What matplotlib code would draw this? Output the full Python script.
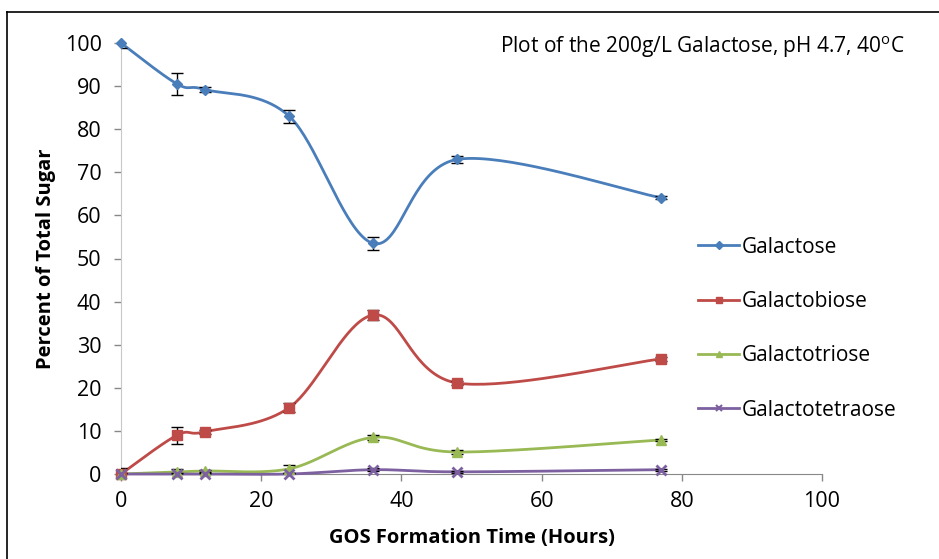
import numpy as np
import matplotlib
matplotlib.use("Agg")
import matplotlib.pyplot as plt
from matplotlib.lines import Line2D

plt.rcParams['font.family'] = ['Open Sans', 'DejaVu Sans']
plt.rcParams['mathtext.fontset'] = 'custom'
plt.rcParams['mathtext.rm'] = 'Open Sans'

# Sampling times (hours)
hours = [0, 8, 12, 24, 36, 48, 77]

# Percent of total sugar for each species
galactose = [100.0, 90.5, 89.2, 83.0, 53.5, 73.0, 64.1]
galactobiose = [0.0, 9.0, 9.8, 15.4, 36.9, 21.1, 26.7]
galactotriose = [0.0, 0.5, 0.7, 1.2, 8.5, 5.1, 7.9]
galactotetraose = [0.0, 0.0, 0.0, 0.0, 1.0, 0.5, 1.0]

# Standard deviations
galactose_err = [1.2, 2.5, 0.5, 1.5, 1.5, 0.8, 0.4]
galactobiose_err = [1.5, 2.0, 0.5, 1.0, 1.2, 0.5, 0.4]
galactotriose_err = [0.3, 0.7, 0.3, 1.0, 0.6, 0.4, 0.3]
galactotetraose_err = [0.2, 0.2, 0.2, 0.2, 0.3, 0.2, 0.2]

series_names = ["Galactose", "Galactobiose", "Galactotriose", "Galactotetraose"]
x_ticks = [0, 20, 40, 60, 80, 100]
y_ticks = [0, 10, 20, 30, 40, 50, 60, 70, 80, 90, 100]

colors = ["#4A7EBB", "#BE4B48", "#98B954", "#7D60A0"]
markers = ["D", "s", "^", "x"]
msizes = [5.5, 7, 7, 7]


def smooth_curve(xs, ys, n=40):
    """Bezier-smoothed line through the points (Catmull-Rom style)."""
    pts = np.column_stack([xs, ys]).astype(float)
    out = []
    m = len(pts)
    for i in range(m - 1):
        p0 = pts[i - 1] if i > 0 else pts[i]
        p1 = pts[i]
        p2 = pts[i + 1]
        p3 = pts[i + 2] if i + 2 < m else pts[i + 1]
        c1 = p1 + (p2 - p0) / 6.0
        c2 = p2 - (p3 - p1) / 6.0
        t = np.linspace(0, 1, n)[:, None]
        seg = ((1 - t) ** 3) * p1 + 3 * ((1 - t) ** 2) * t * c1 + 3 * (1 - t) * t ** 2 * c2 + t ** 3 * p2
        out.append(seg if i == 0 else seg[1:])
    c = np.vstack(out)
    return c[:, 0], c[:, 1]


fig = plt.figure(figsize=(9.39, 5.59), dpi=100)
ax = fig.add_axes([121 / 939, 85 / 559, 701 / 939, 431 / 559])

data = [galactose, galactobiose, galactotriose, galactotetraose]
errs = [galactose_err, galactobiose_err, galactotriose_err, galactotetraose_err]

for name, ys, es, col, mk, ms in zip(series_names, data, errs, colors, markers, msizes):
    sx, sy = smooth_curve(hours, ys)
    ax.plot(sx, sy, color=col, lw=2, solid_capstyle='round', zorder=3, clip_on=False)
    ax.errorbar(hours, ys, yerr=es, fmt='none', ecolor='black', elinewidth=1,
                capsize=4, capthick=1, zorder=4)
    ax.plot(hours, ys, linestyle='none', marker=mk, markersize=ms, color=col,
            markeredgecolor=col, markeredgewidth=2 if mk == 'x' else 1,
            zorder=5, clip_on=False)

ax.set_xlim(0, 100)
ax.set_ylim(0, 100)
ax.set_xticks(x_ticks)
ax.set_yticks(y_ticks)
ax.tick_params(axis='both', labelsize=15.5, colors='#888888', labelcolor='black',
               length=5, width=1, direction='out')
ax.tick_params(axis='y', pad=9)
ax.tick_params(axis='x', pad=7)

for s in ['top', 'right']:
    ax.spines[s].set_visible(False)
ax.spines['left'].set_color('#c8c8c8')
ax.spines['bottom'].set_color('#888888')

ax.set_xlabel("GOS Formation Time (Hours)", fontsize=14.5, fontweight='bold', labelpad=12)
ax.set_ylabel("Percent of Total Sugar", fontsize=14.5, fontweight='bold', labelpad=6)

fig.text(905 / 939, 1 - 47 / 559, r"Plot of the 200g/L Galactose, pH 4.7, 40$^{\mathrm{o}}$C",
         ha='right', va='center', fontsize=15)

handles = [Line2D([0], [0], color=c, lw=2, marker=m, markersize=ms * 0.7,
                  markeredgewidth=1.5 if m == 'x' else 1)
           for c, m, ms in zip(colors, markers, msizes)]
fig.legend(handles, series_names, loc='upper left',
           bbox_to_anchor=(679 / 939, 1 - 218 / 559), frameon=False,
           fontsize=15, handlelength=2.0, handletextpad=0.1,
           labelspacing=1.6)

# Outline of the chart area
fig.add_artist(Line2D([7 / 939, 1], [1 - 12 / 559, 1 - 12 / 559], color='black', lw=1.2,
                      transform=fig.transFigure))
fig.add_artist(Line2D([7 / 939, 7 / 939], [0, 1 - 12 / 559], color='black', lw=1.2,
                      transform=fig.transFigure))

fig.savefig("out.png", dpi=100)
